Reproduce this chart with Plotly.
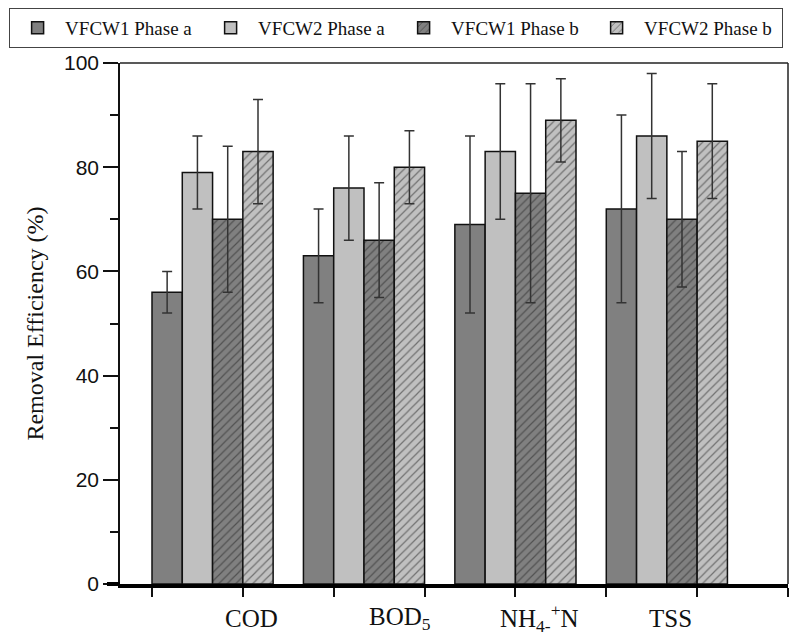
import plotly.graph_objects as go

categories = ["COD", "BOD<sub>5</sub>", "NH<sub>4-</sub><sup>+</sup>N", "TSS"]
group_pos = [1, 2, 3, 4]

series_names = ["VFCW1 Phase a", "VFCW2 Phase a", "VFCW1 Phase b", "VFCW2 Phase b"]
vfcw1_a = [56, 63, 69, 72]
vfcw2_a = [79, 76, 83, 86]
vfcw1_b = [70, 66, 75, 70]
vfcw2_b = [83, 80, 89, 85]

err_vfcw1_a = [4, 9, 17, 18]
err_vfcw2_a = [7, 10, 13, 12]
err_vfcw1_b = [14, 11, 21, 13]
err_vfcw2_b = [10, 7, 8, 11]

x_ticks = [0.6, 1.2, 1.8, 2.4, 3.0, 3.6, 4.2, 4.8]
y_ticks = [0, 20, 40, 60, 80, 100]

values = [vfcw1_a, vfcw2_a, vfcw1_b, vfcw2_b]
errors = [err_vfcw1_a, err_vfcw2_a, err_vfcw1_b, err_vfcw2_b]
fills = ["#808080", "#c0c0c0", "#808080", "#c0c0c0"]
hatched = [False, False, True, True]

fig = go.Figure()
for name, vals, errs, col, hat in zip(series_names, values, errors, fills, hatched):
    marker = dict(color=col, line=dict(color="#111111", width=1.5))
    if hat:
        marker["pattern"] = dict(shape="/", fgcolor="#222222", bgcolor=col,
                                 size=6, solidity=0.2, fillmode="overlay")
    fig.add_trace(go.Bar(
        x=group_pos, y=vals, name=name, marker=marker,
        error_y=dict(type="data", array=errs, visible=True,
                     color="#333333", thickness=1.5, width=5),
    ))

serif = "Liberation Serif"
sans = "Liberation Sans"

label_x = [1.257, 2.237, 3.158, 4.026]
annotations = []
for cat, lx in zip(categories, label_x):
    annotations.append(dict(x=lx, y=-0.066, xref="x", yref="paper", text=cat,
                            showarrow=False, xanchor="center", yanchor="middle",
                            font=dict(family=serif, size=25, color="#111111")))

shapes = [
    dict(type="line", xref="paper", yref="paper", x0=0, x1=1, y0=1, y1=1,
         line=dict(color="#222222", width=1.5)),
    dict(type="line", xref="paper", yref="paper", x0=1, x1=1, y0=0, y1=1,
         line=dict(color="#222222", width=1.5)),
    dict(type="line", xref="paper", yref="paper", x0=-0.0195, x1=0, y0=0, y1=0,
         line=dict(color="#000000", width=4)),
]

fig.update_layout(
    width=802, height=635,
    margin=dict(l=112, r=22, t=55, b=59, autoexpand=False),
    paper_bgcolor="white", plot_bgcolor="white",
    barmode="group", bargap=0.2, bargroupgap=0,
    showlegend=True,
    legend=dict(orientation="h", x=-0.166, y=1.1056, xanchor="left", yanchor="top",
                font=dict(family=serif, size=19, color="#111111"),
                bordercolor="#444444", borderwidth=1, bgcolor="white",
                entrywidth=133, traceorder="normal", itemwidth=45),
    xaxis=dict(range=[0.3887, 4.8], tickmode="array", tickvals=x_ticks,
               showticklabels=False, ticks="outside", ticklen=9, tickwidth=2,
               tickcolor="#111111", showline=True, linecolor="#000000",
               linewidth=4, showgrid=False, zeroline=False),
    yaxis=dict(range=[0, 100], tickmode="array", tickvals=y_ticks,
               ticks="outside", ticklen=15, tickwidth=1.5, tickcolor="#111111",
               minor=dict(dtick=10, ticks="outside", ticklen=8, tickwidth=1.5,
                          tickcolor="#111111", showgrid=False),
               showline=True, linecolor="#111111", linewidth=1.5,
               showgrid=False, zeroline=False,
               tickfont=dict(family=sans, size=21, color="#111111"),
               title=dict(text="Removal Efficiency (%)", standoff=14,
                          font=dict(family=serif, size=24, color="#111111"))),
    annotations=annotations,
    shapes=shapes,
)

fig.write_html("out.html")
